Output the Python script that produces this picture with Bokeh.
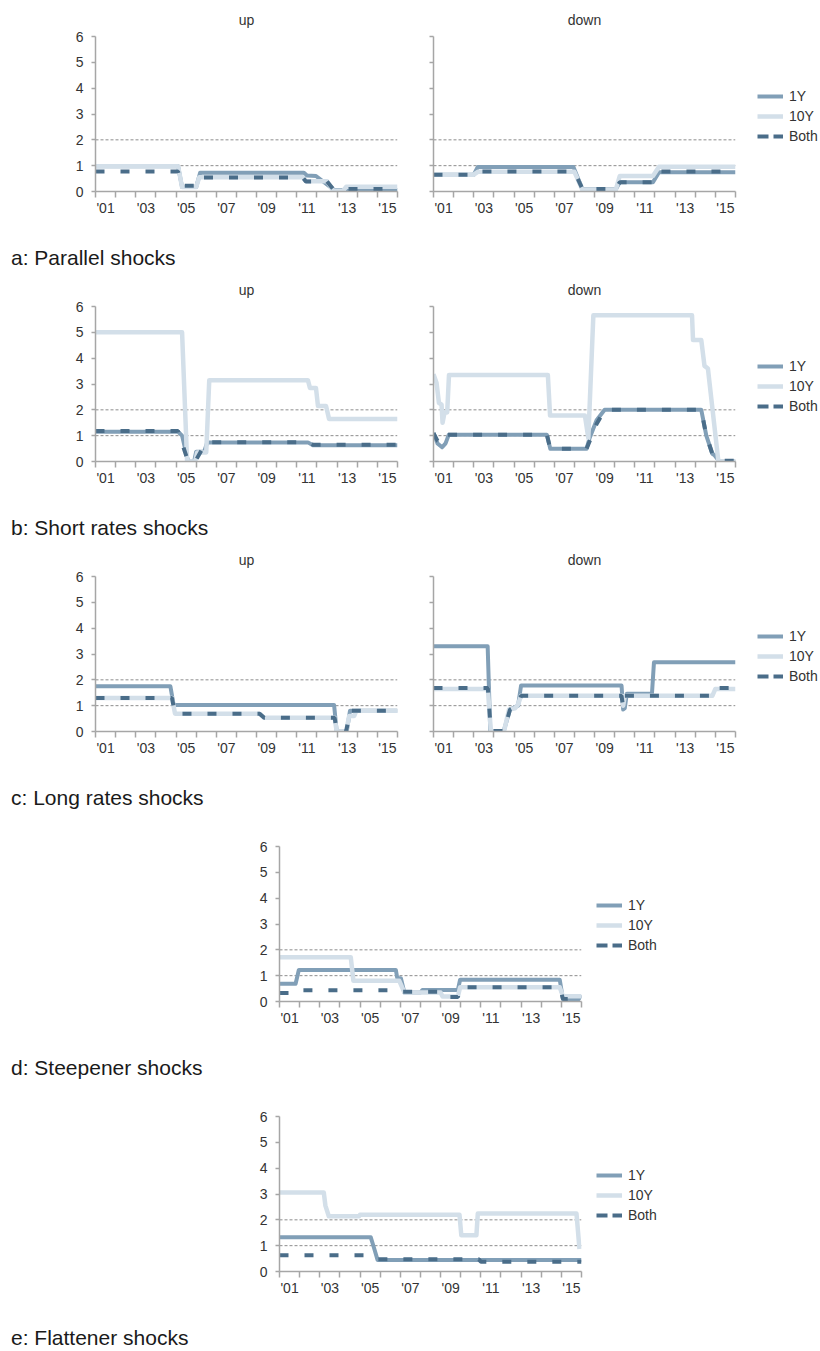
from bokeh.plotting import figure
from bokeh.models import Range1d, FixedTicker, Span, Legend, LegendItem, Div
from bokeh.layouts import column, row
from bokeh.embed import file_html
from bokeh.resources import INLINE

FONT = "Liberation Sans"
C_1Y = "#819fb7"
C_10Y = "#d3dfe9"
C_BOTH = "#4a6d89"
AXIS_C = "#a6a6a6"
TEXT_C = "#333333"

# ---------------- axis / label data ----------------
X_YEARS = list(range(2001, 2017))            # year boundaries (minor ticks)
X_LABEL_YEARS = [2001, 2003, 2005, 2007, 2009, 2011, 2013, 2015]
X_LABELS = ["'01", "'03", "'05", "'07", "'09", "'11", "'13", "'15"]
Y_TICKS = [0, 1, 2, 3, 4, 5, 6]
THRESHOLDS = [1, 2]
SERIES_NAMES = ["1Y", "10Y", "Both"]
PANEL_TITLES = ["up", "down"]
CAPTIONS = ["a: Parallel shocks", "b: Short rates shocks", "c: Long rates shocks",
            "d: Steepener shocks", "e: Flattener shocks"]

# ---------------- a: Parallel shocks ----------------
PAR_UP_1Y_X = [2001, 2005.1, 2005.3, 2006.0, 2006.2, 2011.35, 2011.5, 2011.95, 2012.85, 2016]
PAR_UP_1Y_Y = [0.98, 0.98, 0.17, 0.17, 0.73, 0.73, 0.62, 0.6, 0.06, 0.06]
PAR_UP_10Y_X = [2001, 2005.1, 2005.3, 2006.0, 2006.15, 2011.3, 2011.45, 2012.5, 2012.8, 2013.3, 2013.45, 2016]
PAR_UP_10Y_Y = [0.98, 0.98, 0.17, 0.17, 0.55, 0.55, 0.4, 0.4, 0.03, 0.03, 0.18, 0.18]
PAR_UP_BOTH_X = [2001, 2005.1, 2005.3, 2006.0, 2006.15, 2011.3, 2011.45, 2012.5, 2012.8, 2016]
PAR_UP_BOTH_Y = [0.77, 0.77, 0.22, 0.22, 0.54, 0.54, 0.39, 0.39, 0.1, 0.1]

PAR_DN_1Y_X = [2001, 2003.0, 2003.2, 2007.95, 2008.4, 2010.05, 2010.25, 2011.9, 2012.2, 2016]
PAR_DN_1Y_Y = [0.65, 0.65, 0.95, 0.95, 0.08, 0.08, 0.36, 0.36, 0.75, 0.75]
PAR_DN_10Y_X = [2001, 2003.0, 2003.2, 2008.0, 2008.4, 2010.05, 2010.25, 2011.9, 2012.2, 2016]
PAR_DN_10Y_Y = [0.65, 0.65, 0.76, 0.76, 0.05, 0.05, 0.6, 0.6, 0.96, 0.96]
PAR_DN_BOTH_X = [2001, 2003.0, 2003.2, 2008.0, 2008.4, 2010.05, 2010.25, 2011.9, 2012.2, 2016]
PAR_DN_BOTH_Y = [0.65, 0.65, 0.77, 0.77, 0.1, 0.1, 0.36, 0.36, 0.77, 0.77]

# ---------------- b: Short rates shocks ----------------
SHO_UP_1Y_X = [2001, 2005.1, 2005.3, 2005.6, 2005.9, 2006.0, 2006.4, 2006.55, 2011.55, 2011.8, 2016]
SHO_UP_1Y_Y = [1.15, 1.15, 1.0, 0.0, 0.0, 0.38, 0.38, 0.74, 0.74, 0.63, 0.63]
SHO_UP_10Y_X = [2001, 2005.3, 2005.55, 2005.95, 2006.05, 2006.5, 2006.65, 2011.55, 2011.65,
                2011.95, 2012.05, 2012.45, 2012.6, 2016]
SHO_UP_10Y_Y = [5.0, 5.0, 0.0, 0.0, 0.35, 0.35, 3.15, 3.15, 2.85, 2.85, 2.15, 2.15, 1.65, 1.65]
SHO_UP_BOTH_X = [2001, 2005.1, 2005.6, 2005.95, 2006.5, 2011.55, 2011.8, 2016]
SHO_UP_BOTH_Y = [1.18, 1.18, 0.0, 0.0, 0.75, 0.75, 0.65, 0.65]

SHO_DN_1Y_X = [2001, 2001.2, 2001.43, 2001.6, 2001.76, 2006.63, 2006.8, 2008.6, 2008.75, 2009.1,
               2009.5, 2014.3, 2014.55, 2014.85, 2014.95, 2015.2, 2016]
SHO_DN_1Y_Y = [1.1, 0.7, 0.55, 0.7, 1.04, 1.04, 0.49, 0.49, 0.9, 1.6,
               2.0, 2.0, 1.0, 0.3, 0.25, 0.0, 0.0]
SHO_DN_10Y_X = [2001, 2001.15, 2001.27, 2001.4, 2001.45, 2001.55, 2001.68, 2001.77, 2006.68, 2006.79,
                2008.52, 2008.69, 2008.94, 2013.84, 2013.89, 2014.3, 2014.46, 2014.63, 2015.15, 2016]
SHO_DN_10Y_Y = [3.38, 3.05, 2.27, 2.2, 1.5, 1.9, 1.9, 3.35, 3.35, 1.78,
                1.78, 0.9, 5.66, 5.66, 4.7, 4.7, 3.7, 3.6, 0.0, 0.0]
SHO_DN_BOTH_X = [2001, 2001.2, 2001.45, 2001.7, 2006.63, 2006.8, 2008.6, 2009.1, 2009.5, 2014.3,
                 2014.55, 2014.85, 2015.2, 2016]
SHO_DN_BOTH_Y = [1.1, 0.8, 0.7, 1.04, 1.04, 0.49, 0.49, 1.45, 2.0, 2.0,
                 1.0, 0.3, 0.03, 0.03]

# ---------------- c: Long rates shocks ----------------
LON_UP_1Y_X = [2001, 2004.72, 2004.88, 2012.85, 2012.98, 2013.48, 2013.64, 2016]
LON_UP_1Y_Y = [1.75, 1.75, 1.03, 1.03, 0.0, 0.0, 0.8, 0.8]
LON_UP_10Y_X = [2001, 2004.8, 2004.95, 2009.15, 2009.38, 2012.88, 2012.98, 2013.45, 2013.6, 2013.85, 2013.95, 2016]
LON_UP_10Y_Y = [1.3, 1.3, 0.69, 0.69, 0.53, 0.53, 0.0, 0.0, 0.6, 0.6, 0.8, 0.8]
LON_UP_BOTH_X = [2001, 2004.8, 2004.95, 2009.15, 2009.38, 2012.88, 2012.98, 2013.45, 2013.64, 2016]
LON_UP_BOTH_Y = [1.3, 1.3, 0.69, 0.69, 0.53, 0.53, 0.0, 0.0, 0.8, 0.8]

LON_DN_1Y_X = [2001, 2003.69, 2003.82, 2004.48, 2004.8, 2005.2, 2005.35, 2010.34, 2010.42, 2010.5,
               2010.6, 2011.85, 2011.95, 2016]
LON_DN_1Y_Y = [3.3, 3.3, 0.0, 0.0, 0.85, 1.0, 1.78, 1.78, 0.85, 0.9,
               1.46, 1.46, 2.68, 2.68]
LON_DN_10Y_X = [2001, 2003.7, 2003.85, 2004.5, 2004.75, 2005.05, 2005.2, 2005.35, 2010.34, 2010.42,
                2010.5, 2014.85, 2015.0, 2016]
LON_DN_10Y_Y = [1.65, 1.65, 0.0, 0.0, 0.85, 0.9, 1.05, 1.38, 1.38, 1.0,
                1.38, 1.38, 1.65, 1.65]
LON_DN_BOTH_X = [2001, 2003.7, 2003.85, 2004.5, 2004.8, 2005.2, 2005.35, 2010.34, 2010.42, 2010.5,
                 2014.85, 2015.0, 2016]
LON_DN_BOTH_Y = [1.68, 1.68, 0.02, 0.02, 0.85, 1.0, 1.38, 1.38, 0.95, 1.38,
                 1.38, 1.68, 1.68]

# ---------------- d: Steepener shocks ----------------
STE_1Y_X = [2001, 2001.8, 2001.96, 2006.78, 2006.85, 2007.03, 2007.2, 2008.0, 2008.1, 2009.86,
            2009.97, 2014.92, 2015.08, 2015.85, 2016]
STE_1Y_Y = [0.69, 0.69, 1.22, 1.22, 0.9, 0.9, 0.35, 0.35, 0.45, 0.45,
            0.84, 0.84, 0.08, 0.08, 0.25]
STE_10Y_X = [2001, 2004.54, 2004.67, 2006.95, 2007.2, 2009.0, 2009.1, 2009.86, 2009.97, 2014.92, 2015.08, 2016]
STE_10Y_Y = [1.71, 1.71, 0.8, 0.8, 0.35, 0.35, 0.19, 0.19, 0.55, 0.55, 0.2, 0.2]
STE_BOTH_X = [2001, 2001.8, 2001.96, 2006.9, 2007.1, 2008.9, 2009.1, 2009.86, 2009.97, 2014.92, 2015.08, 2016]
STE_BOTH_Y = [0.33, 0.33, 0.44, 0.44, 0.38, 0.38, 0.17, 0.17, 0.55, 0.55, 0.1, 0.1]

# ---------------- e: Flattener shocks ----------------
FLA_1Y_X = [2001, 2005.53, 2005.7, 2005.87, 2016]
FLA_1Y_Y = [1.33, 1.33, 0.9, 0.45, 0.45]
FLA_10Y_X = [2001, 2003.2, 2003.28, 2003.45, 2004.95, 2005.0, 2009.94, 2010.03, 2010.78, 2010.85, 2015.75, 2015.9]
FLA_10Y_Y = [3.06, 3.06, 2.55, 2.14, 2.14, 2.2, 2.2, 1.4, 1.4, 2.25, 2.25, 0.87]
FLA_BOTH_X = [2001, 2005.5, 2005.85, 2010.9, 2011.0, 2016]
FLA_BOTH_Y = [0.63, 0.63, 0.47, 0.47, 0.38, 0.38]

TOP_BORDER = 36
FRAME_H = 155
BOTTOM_BORDER = 55
FIG_H = TOP_BORDER + FRAME_H + BOTTOM_BORDER
BLOCK_H = 270


def style_axes(p, show_ylabels):
    xa = p.xaxis[0]
    xa.ticker = FixedTicker(ticks=[y + 0.5 for y in X_LABEL_YEARS], minor_ticks=X_YEARS)
    xa.major_label_overrides = {y + 0.5: lab for y, lab in zip(X_LABEL_YEARS, X_LABELS)}
    xa.major_tick_out = 0
    xa.major_tick_in = 0
    xa.minor_tick_out = 6
    xa.minor_tick_in = 0
    xa.major_label_standoff = 2
    ya = p.yaxis[0]
    ya.ticker = FixedTicker(ticks=Y_TICKS)
    ya.major_tick_out = 4
    ya.major_tick_in = 0
    ya.minor_tick_out = 0
    ya.minor_tick_in = 0
    if show_ylabels:
        ya.major_label_standoff = 8
    else:
        ya.major_label_overrides = {t: "" for t in Y_TICKS}
        ya.major_label_standoff = 0
    for ax in (xa, ya):
        ax.axis_line_color = AXIS_C
        ax.axis_line_width = 1.5
        ax.major_tick_line_color = AXIS_C
        ax.major_tick_line_width = 1.5
        ax.minor_tick_line_color = AXIS_C
        ax.minor_tick_line_width = 1.5
        ax.major_label_text_font = FONT
        ax.major_label_text_font_size = "14px"
        ax.major_label_text_color = TEXT_C


def make_panel(width, border_left, border_right, title, data, show_ylabels):
    kw = dict(width=width, height=FIG_H, x_range=Range1d(2001, 2016), y_range=Range1d(0, 6),
              output_backend="svg", toolbar_location=None,
              min_border_left=border_left, min_border_right=border_right,
              min_border_top=TOP_BORDER, min_border_bottom=BOTTOM_BORDER)
    if title:
        kw["title"] = title
    p = figure(**kw)
    p.outline_line_color = None
    p.xgrid.visible = False
    p.ygrid.visible = False
    if title:
        p.title.align = "center"
        p.title.text_font = FONT
        p.title.text_font_size = "14px"
        p.title.text_font_style = "normal"
        p.title.text_color = TEXT_C
        p.title.standoff = 17
    style_axes(p, show_ylabels)
    for t in THRESHOLDS:
        p.add_layout(Span(location=t, dimension="width", line_color="#8c8c8c",
                          line_dash="3 2", line_width=1, level="underlay"))
    (x1, y1), (x10, y10), (xb, yb) = data
    p.line(x1, y1, line_color=C_1Y, line_width=4, line_join="round")
    p.line(x10, y10, line_color=C_10Y, line_width=4.5, line_join="round")
    p.line(xb, yb, line_color=C_BOTH, line_width=4, line_dash="9 16")
    return p


def make_legend_fig(width, loc, data):
    # frame of this figure is aligned with the neighbouring plot frame by the row layout
    p = figure(width=width, height=FIG_H, x_range=Range1d(2001, 2016), y_range=Range1d(0, 6),
               output_backend="svg", toolbar_location=None,
               x_axis_location=None, y_axis_location=None,
               min_border_left=0, min_border_right=0,
               min_border_top=TOP_BORDER, min_border_bottom=BOTTOM_BORDER)
    p.outline_line_color = None
    p.xgrid.visible = False
    p.ygrid.visible = False
    (x1, y1), (x10, y10), (xb, yb) = data
    # one-point proxies: nothing visible in the plot area, only legend swatches
    r1 = p.line(x1[:1], y1[:1], line_color=C_1Y, line_width=4)
    r10 = p.line(x10[:1], y10[:1], line_color=C_10Y, line_width=4.5)
    rb = p.line(xb[:1], yb[:1], line_color=C_BOTH, line_width=4, line_dash="11 5")
    items = [LegendItem(label=SERIES_NAMES[0], renderers=[r1]),
             LegendItem(label=SERIES_NAMES[1], renderers=[r10]),
             LegendItem(label=SERIES_NAMES[2], renderers=[rb])]
    leg = Legend(items=items, location=loc, orientation="vertical",
                 glyph_width=26, glyph_height=20, label_height=20, spacing=0,
                 padding=0, margin=0, label_standoff=6,
                 label_text_font=FONT, label_text_font_size="14px",
                 label_text_color=TEXT_C, border_line_color=None,
                 background_fill_alpha=0)
    p.add_layout(leg, "center")
    return p


def caption(text, h):
    return Div(text=('<div style="padding-left:11px;font-size:21px;line-height:24px;'
                     'font-family:\'Liberation Sans\',Arial,sans-serif;color:#1a1a1a;'
                     'white-space:nowrap">' + text + '</div>'),
               width=400, height=h, margin=0)


PAIRS = [
    ((PAR_UP_1Y_X, PAR_UP_1Y_Y), (PAR_UP_10Y_X, PAR_UP_10Y_Y), (PAR_UP_BOTH_X, PAR_UP_BOTH_Y)),
    ((PAR_DN_1Y_X, PAR_DN_1Y_Y), (PAR_DN_10Y_X, PAR_DN_10Y_Y), (PAR_DN_BOTH_X, PAR_DN_BOTH_Y)),
    ((SHO_UP_1Y_X, SHO_UP_1Y_Y), (SHO_UP_10Y_X, SHO_UP_10Y_Y), (SHO_UP_BOTH_X, SHO_UP_BOTH_Y)),
    ((SHO_DN_1Y_X, SHO_DN_1Y_Y), (SHO_DN_10Y_X, SHO_DN_10Y_Y), (SHO_DN_BOTH_X, SHO_DN_BOTH_Y)),
    ((LON_UP_1Y_X, LON_UP_1Y_Y), (LON_UP_10Y_X, LON_UP_10Y_Y), (LON_UP_BOTH_X, LON_UP_BOTH_Y)),
    ((LON_DN_1Y_X, LON_DN_1Y_Y), (LON_DN_10Y_X, LON_DN_10Y_Y), (LON_DN_BOTH_X, LON_DN_BOTH_Y)),
]
SINGLES = [
    ((STE_1Y_X, STE_1Y_Y), (STE_10Y_X, STE_10Y_Y), (STE_BOTH_X, STE_BOTH_Y)),
    ((FLA_1Y_X, FLA_1Y_Y), (FLA_10Y_X, FLA_10Y_Y), (FLA_BOTH_X, FLA_BOTH_Y)),
]

CAP_H = BLOCK_H - FIG_H
children = []
for i in range(3):
    left = make_panel(415, 95, 18, PANEL_TITLES[0], PAIRS[2 * i], True)
    right = make_panel(322, 18, 2, PANEL_TITLES[1], PAIRS[2 * i + 1], False)
    leg = make_legend_fig(83, (20, 45), PAIRS[2 * i + 1])
    children.append(row(left, right, leg, margin=0))
    children.append(caption(CAPTIONS[i], CAP_H))
for j in range(2):
    p = make_panel(583, 279, 2, None, SINGLES[j], True)
    leg = make_legend_fig(237, (13, 46), SINGLES[j])
    children.append(row(p, leg, margin=0))
    children.append(caption(CAPTIONS[3 + j], CAP_H if j == 0 else 25))

layout = column(*children, margin=0)
open("out.html", "w").write(file_html(layout, INLINE))
